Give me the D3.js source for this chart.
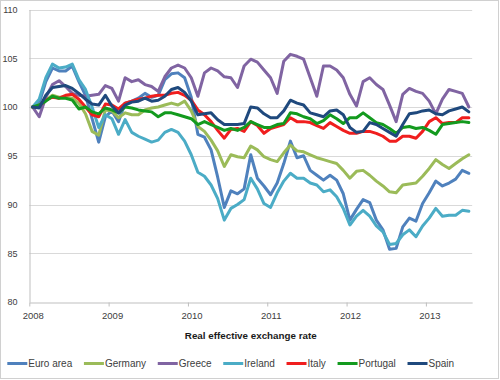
<!DOCTYPE html>
<html>
<head>
<meta charset="utf-8">
<script src="https://cdn.jsdelivr.net/npm/d3@7"></script>
<style>
  body { margin: 0; background: #fff; }
  svg { display: block; }
  text { font-family: "Liberation Sans", Arial, sans-serif; }
</style>
</head>
<body>
<svg id="chart" width="500" height="380"></svg>
<script>
// ---- data (monthly, Jan 2008 – Jul 2013) ----
const years = ["2008", "2009", "2010", "2011", "2012", "2013"];
const yTicks = [80, 85, 90, 95, 100, 105, 110];
const seriesNames = ["Euro area", "Germany", "Greece", "Ireland", "Italy", "Portugal", "Spain"];
const seriesColors = ["#4F81BD", "#9BBB59", "#8064A2", "#4BACC6", "#F01E1E", "#139A1E", "#1F497D"];
const chartTitle = "Real effective exchange rate";

const euroArea = [
  100, 100.4, 102.6, 104.0, 103.7, 103.7, 104.2, 102.6, 101.2, 98.8,
  96.4, 99.0, 99.6, 98.5, 100.4, 100.6, 100.9, 101.4, 101.0, 101.2,
  102.8, 103.4, 103.5, 103.0, 101.0, 97.2, 96.9, 95.6, 92.8, 89.7,
  91.4, 91.1, 91.6, 95.1, 92.7, 91.9, 91.0, 92.2, 94.2, 96.5,
  94.8, 95.0, 93.5, 93.0, 92.5, 93.0, 92.5, 91.1, 88.4, 89.5,
  90.5, 90.2, 88.4, 87.4, 85.4, 85.5, 87.7, 88.6, 88.3, 90.1,
  91.2, 92.4, 91.9, 92.2, 92.6, 93.5, 93.2
];
const germany = [
  100, 100.2, 100.7, 101.2, 101.0, 101.0, 100.9, 100.4, 99.3, 97.5,
  97.1, 99.7, 99.6, 98.9, 99.4, 99.2, 99.2, 99.7, 99.9, 100.0,
  100.2, 100.4, 100.2, 100.6, 99.6, 98.0, 97.5, 96.6, 95.5, 93.9,
  95.1, 94.9, 94.8, 96.0, 95.6, 94.9, 94.6, 94.4, 95.3, 96.1,
  95.5, 95.4, 95.1, 94.8, 94.6, 94.4, 94.2, 93.5, 92.7, 93.4,
  93.5, 93.0, 92.4, 91.9, 91.3, 91.2, 92.0, 92.1, 92.2, 92.9,
  93.7, 94.6, 94.1, 93.7, 94.2, 94.7, 95.1
];
const greece = [
  100, 99.0, 101.0, 102.3, 102.7, 102.1, 101.4, 101.2, 101.1, 101.2,
  101.3, 102.2, 101.9, 100.6, 103.0, 102.6, 102.8, 102.3, 102.1, 101.6,
  103.1, 104.0, 104.3, 104.0, 103.0, 101.1, 103.5, 104.0, 103.7, 103.1,
  103.0, 102.0, 104.2, 104.9, 104.6, 103.8, 103.0, 101.4, 104.7, 105.4,
  105.2, 104.9, 103.0, 101.1, 104.2, 104.2, 103.8, 103.0, 101.3, 100.1,
  102.6, 103.0, 102.3, 101.8, 100.2, 98.5, 101.3, 101.9, 101.6, 101.4,
  100.6, 99.3, 100.8, 101.8, 101.6, 101.4, 100.0
];
const ireland = [
  100, 100.8, 103.0, 104.4, 104.0, 104.1, 104.4, 102.8, 101.8, 100.0,
  97.9, 99.2, 98.8, 97.2, 98.7, 97.4, 97.0, 96.7, 96.4, 96.6,
  97.4, 97.7, 97.4, 96.5, 95.1, 93.3, 92.9, 92.0, 90.6, 88.4,
  89.6, 90.0, 90.5, 92.7, 91.6, 90.1, 89.7, 91.2, 92.4, 93.2,
  92.7, 92.7, 92.2, 92.0, 91.3, 91.5, 90.8, 89.6, 87.9, 88.8,
  89.4, 88.8, 87.8, 87.2, 85.9, 86.0, 86.9, 87.4, 86.7, 87.8,
  88.6, 89.6, 88.8, 88.9, 88.9, 89.4, 89.3
];
const italy = [
  100, 100.1, 100.7, 101.0, 100.9, 101.2, 101.3, 100.8, 100.0, 99.2,
  99.0, 100.3, 100.2, 99.8, 100.4, 100.6, 100.8, 100.9, 101.1, 101.2,
  101.2, 101.4, 101.5, 101.2, 100.7, 99.7, 99.2, 98.5, 97.6, 96.8,
  97.7, 97.8, 97.5, 98.5, 98.1, 97.3, 97.8, 98.0, 98.2, 98.9,
  98.5, 98.5, 98.4, 98.1, 97.8, 98.4, 98.0, 97.6, 97.3, 97.3,
  97.5, 97.5, 97.3, 97.0, 96.5, 96.5, 97.0, 97.0, 96.8, 97.5,
  98.5, 98.9, 98.3, 98.4, 98.4, 98.9, 98.9
];
const portugal = [
  100, 100.2, 100.6, 101.1, 100.9, 100.9, 100.7, 99.8, 100.0, 99.5,
  99.3, 99.9, 99.7, 99.4, 100.0, 99.9, 99.7, 99.6, 99.5, 99.0,
  99.4, 99.4, 99.2, 99.0, 98.8, 98.2, 98.5, 98.2, 97.9, 97.6,
  97.8, 97.6, 97.9, 98.5, 98.2, 97.9, 97.9, 98.2, 98.3, 99.4,
  99.3, 99.0, 98.8, 98.3, 98.6, 99.2, 98.8, 98.3, 98.9, 98.9,
  99.4, 98.9, 98.4, 98.2, 97.8, 97.3, 97.9, 98.0, 97.8, 97.9,
  97.6, 97.2, 98.2, 98.3, 98.4, 98.5, 98.4
];
const spain = [
  100, 99.9, 101.2, 102.0, 102.1, 102.2, 101.9, 101.4, 100.8, 100.3,
  100.2, 101.2, 100.1, 99.4, 100.2, 100.5, 100.6, 100.9, 100.6, 100.7,
  101.1, 101.8, 102.0, 101.5, 100.6, 99.2, 99.3, 99.4, 98.7, 98.2,
  98.2, 98.2, 98.3, 100.0, 99.9, 99.3, 98.9, 98.9, 99.6, 100.7,
  100.4, 100.2, 99.4, 99.2, 99.0, 99.6, 99.7, 99.2, 97.9, 97.4,
  97.5, 98.4, 98.2, 97.8, 97.4, 97.0, 98.2, 99.3, 99.4, 99.6,
  99.7, 99.3, 99.2, 99.6, 99.8, 100.0, 99.5
];
const seriesValues = [euroArea, germany, greece, ireland, italy, portugal, spain];

// ---- layout ----
const svg = d3.select("#chart");
const plot = { left: 29.3, top: 9.5, bottom: 302 };
const nMonths = euroArea.length;            // 67 months, Jan 2008 – Jul 2013
const monthsPerYear = 12;

// chart border
svg.append("rect").attr("x", 0.5).attr("y", 0.5).attr("width", 498).attr("height", 378)
  .attr("fill", "#fff").attr("stroke", "#D0D0D0");

const x = d3.scaleLinear().domain([0, nMonths]).range([plot.left, plot.left + nMonths * 6.61]);
const y = d3.scaleLinear().domain([80, 110]).range([plot.bottom, plot.top]);

// gridlines
svg.append("g").selectAll("line").data(yTicks.filter(v => v !== 80)).join("line")
  .attr("x1", x(0)).attr("x2", x(nMonths))
  .attr("y1", d => Math.round(y(d)) + 0.5).attr("y2", d => Math.round(y(d)) + 0.5)
  .attr("stroke", "#D9D9D9").attr("stroke-width", 1);

// y axis
const yAxis = svg.append("g").attr("transform", `translate(${Math.round(x(0)) + 0.5},0)`)
  .call(d3.axisLeft(y).tickValues(yTicks).tickSize(0).tickPadding(12));
yAxis.select(".domain").attr("stroke", "#BFBFBF");
yAxis.selectAll("text").attr("font-size", "9px").attr("fill", "#404040")
  .attr("font-family", "Liberation Sans, Arial, sans-serif");

// x axis
const xAxis = svg.append("g").attr("transform", `translate(0,${Math.round(y(80)) + 0.5})`)
  .call(d3.axisBottom(x).tickValues(years.map((d, i) => i * monthsPerYear))
    .tickFormat((d, i) => years[i]).tickSize(4).tickSizeOuter(0).tickPadding(6));
xAxis.select(".domain").attr("stroke", "#BFBFBF");
xAxis.selectAll(".tick line").attr("stroke", "#BFBFBF");
xAxis.selectAll("text").attr("font-size", "9.5px").attr("fill", "#404040").attr("dx", 3.5)
  .attr("font-family", "Liberation Sans, Arial, sans-serif");

// lines
const line = d3.line().x((d, i) => x(i + 0.5)).y(d => y(d));
svg.append("g").selectAll("path").data(seriesValues).join("path")
  .attr("d", d => line(d))
  .attr("fill", "none")
  .attr("stroke", (d, i) => seriesColors[i])
  .attr("stroke-width", 3)
  .attr("stroke-linejoin", "round")
  .attr("stroke-linecap", "round");

// title
svg.append("text").attr("x", (x(0) + x(nMonths)) / 2).attr("y", 338.6)
  .attr("text-anchor", "middle").attr("font-weight", "bold").attr("font-size", "9.8px")
  .attr("fill", "#1a1a1a").text(chartTitle);

// legend
const legend = svg.append("g").attr("transform", "translate(7.3,363.5)");
let cursor = 0;
seriesNames.forEach((name, i) => {
  const g = legend.append("g").attr("transform", `translate(${cursor},0)`);
  g.append("line").attr("x1", 0).attr("x2", 20).attr("y1", 0).attr("y2", 0)
    .attr("stroke", seriesColors[i]).attr("stroke-width", 3);
  const t = g.append("text").attr("x", 21).attr("y", 3.6)
    .attr("font-size", "10px").attr("fill", "#404040").text(name);
  cursor += 21 + t.node().getComputedTextLength() + 11.7;
});
</script>
</body>
</html>
